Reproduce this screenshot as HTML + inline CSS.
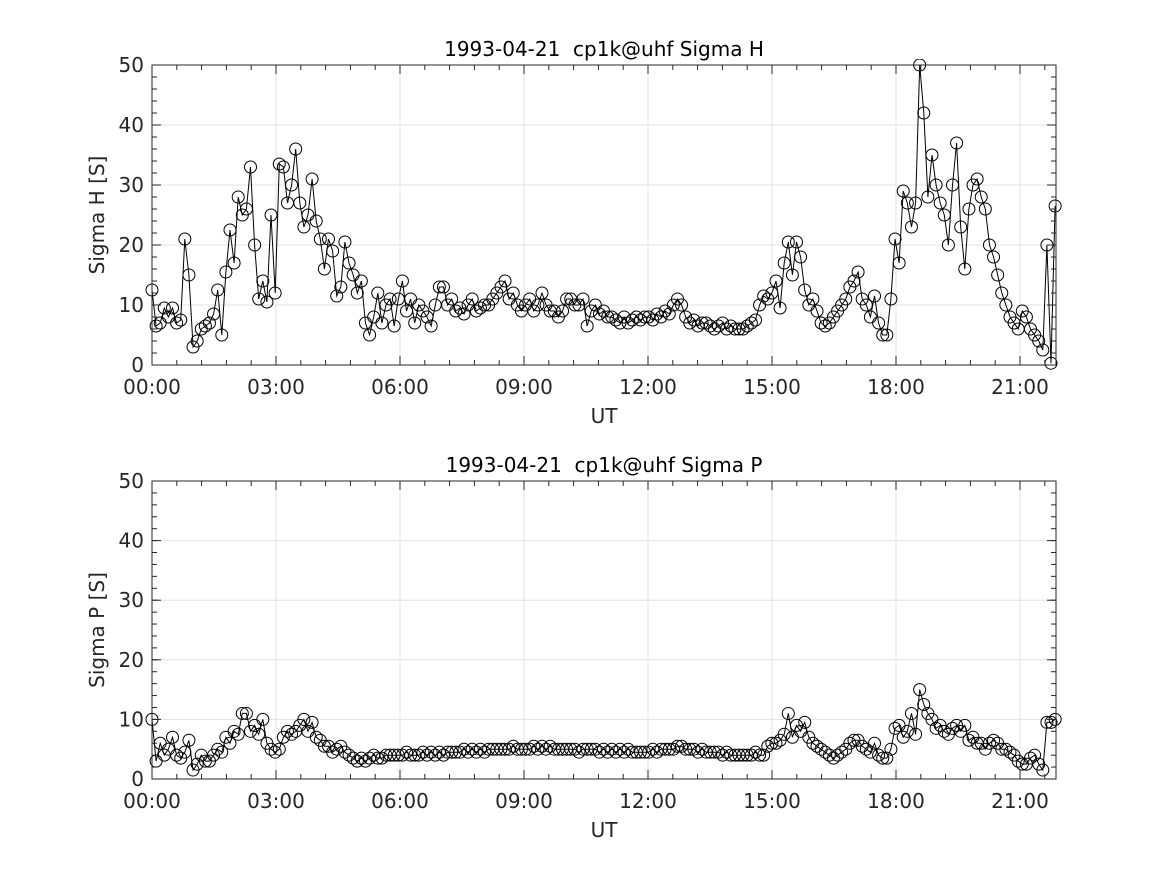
<!DOCTYPE html>
<html><head><meta charset="utf-8"><style>
body{margin:0;background:#fff;}
svg{display:block;font-family:"DejaVu Sans","Liberation Sans",sans-serif;}
</style></head><body>
<svg id="fig" width="1167" height="875" viewBox="0 0 1167 875"></svg>
<script>
const tickHours=[0,3,6,9,12,15,18,21];
const tickLabels=["00:00","03:00","06:00","09:00","12:00","15:00","18:00","21:00"];
const yTicks=[0,10,20,30,40,50];
const lastHour=21.85;
const sigmaH=[12.5,6.5,7,9.5,8,9.5,7,7.5,21,15,
3,4,6,6.5,7,8.5,12.5,5,15.5,22.5,
17,28,25,26,33,20,11,14,10.5,25,
12,33.5,33,27,30,36,27,23,25,31,
24,21,16,21,19,11.5,13,20.5,17,15,
12,14,7,5,8,12,7,10,11,6.5,
11,14,9,11,7,10,9,8,6.5,10,
13,13,10,11,9,9.5,8.5,10,11,9,
9.5,10,10,11,12,13,14,11,12,10,
9,10,11,9,10,12,10,9,9,8,
9,11,11,10,10,11,6.5,9,10,8.5,
9,8,8,7.5,7,8,7,7.5,8,7.5,
8,8,7.5,8.5,8,9,8.5,10,11,10,
8,7,7.5,6.5,7,7,6.5,6,6.5,7,
6,6.5,6,6,6,6.5,7,7.5,10,11.5,
11,12,14,9.5,17,20.5,15,20.5,18,12.5,
10,11,9,7,6.5,7,8,9,10,11,
13,14,15.5,11,10,8,11.5,7,5,5,
11,21,17,29,27,23,27,50,42,28,
35,30,27,25,20,30,37,23,16,26,
30,31,28,26,20,18,15,12,10,8,
7,6,9,8,6,5,4,2.5,20,0.3,26.5];
const sigmaP=[10,3,6,4,5,7,4,3.5,4.5,6.5,
1.5,2.5,4,3,3,4,5,4.5,7,6,
8,7.5,11,11,8,9,7.5,10,6,5,
4.5,5,7,8,7.5,8,9,10,8,9.5,
7,6.5,5.5,5.5,4.5,5,5.5,4.5,4,3.5,
3,3.5,3,3.5,4,3.5,3.5,4,4,4,
4,4,4.5,4,4,4,4.5,4,4.5,4,
4.5,4,4.5,4.5,4.5,4.5,5,4.5,5,4.5,
5,4.5,5,5,5,5,5,5,5.5,5,
5,5,5,5.5,5,5.5,5,5.5,5,5,
5,5,5,5,4.5,5,5,5,5,4.5,
5,4.5,5,4.5,5,4.5,5,4.5,4.5,4.5,
4.5,4.5,5,4.5,5,5,5,5,5.5,5.5,
5,5,5,4.5,5,4.5,4.5,4.5,4.5,4,
4.5,4,4,4,4,4,4,4.5,4,4,
5.5,6,6,6.5,7.5,11,7,9,8,9.5,
7,6,5.5,5,4.5,4,3.5,4,4.5,5,
6,6.5,6.5,5.5,5,4.5,6,4,3.5,3.5,
5,8.5,9,7,8,11,7.5,15,12.5,11,
10,8.5,9,8,7.5,8.5,9,8,9,6.5,
7,6,6,5,6,6.5,6,5,5,4.5,
4,3,2.5,2.5,3.5,4,2.5,1.5,9.5,9.5,10];

const NS="http://www.w3.org/2000/svg";
const svg=document.getElementById('fig');
function mk(tag,attrs,parent){const e=document.createElementNS(NS,tag);for(const k in attrs)e.setAttribute(k,attrs[k]);(parent||svg).appendChild(e);return e;}
const X0=152,X1=1056,HMAX=(X1-X0)/(124/3);
function panel(top,bot,values,title,ylab,key){
  const g=mk('g',{});
  
  
  const xs=h=>X0+(X1-X0)*h/HMAX;
  const ys=v=>bot-(bot-top)*v/50;
  const step=lastHour/(values.length-1);
  mk('rect',{x:X0,y:top,width:X1-X0,height:bot-top,fill:'#fff'},g);
  tickHours.forEach(h=>{const l=mk('line',{x1:xs(h),x2:xs(h),y1:top,y2:bot,stroke:'#e3e3e3','stroke-width':1},g);});
  yTicks.forEach(v=>{const l=mk('line',{x1:X0,x2:X1,y1:ys(v),y2:ys(v),stroke:'#e3e3e3','stroke-width':1},g);});
  let d='';values.forEach((v,i)=>{d+=(i?'L':'M')+xs(i*step).toFixed(1)+' '+ys(v).toFixed(1);});
  const clip=mk('clipPath',{id:'c'+key},g);mk('rect',{x:X0-8,y:top-6,width:X1-X0+16,height:bot-top+12},clip);
  const dg=mk('g',{'clip-path':'url(#c'+key+')'},g);
  const p=mk('path',{d:d,fill:'none',stroke:'#000','stroke-width':1},dg);
  
  
  values.forEach((v,i)=>{const c=mk('circle',{cx:xs(i*step),cy:ys(v),r:6,fill:'none',stroke:'#000','stroke-width':1},dg);
    
    });
  mk('rect',{x:X0,y:top,width:X1-X0,height:bot-top,fill:'none',stroke:'#262626','stroke-width':1},g);
  tickHours.forEach((h,i)=>{const x=xs(h);
    mk('line',{x1:x,x2:x,y1:bot,y2:bot-9,stroke:'#262626'},g);mk('line',{x1:x,x2:x,y1:top,y2:top+9,stroke:'#262626'},g);
    const t=mk('text',{x:x,y:bot+29,'text-anchor':'middle','font-size':20,fill:'#262626'},g);t.textContent=tickLabels[i];
    });
  for(let h=0;h<=HMAX;h+=0.6){const x=xs(h);mk('line',{x1:x,x2:x,y1:bot,y2:bot-5,stroke:'#262626'},g);mk('line',{x1:x,x2:x,y1:top,y2:top+5,stroke:'#262626'},g);}
  yTicks.forEach(v=>{const y=ys(v);
    mk('line',{x1:X0,x2:X0+9,y1:y,y2:y,stroke:'#262626'},g);mk('line',{x1:X1,x2:X1-9,y1:y,y2:y,stroke:'#262626'},g);
    const t=mk('text',{x:X0-8,y:y+7,'text-anchor':'end','font-size':20,fill:'#262626'},g);t.textContent=v;
    });
  for(let v=0;v<=50;v+=2){const y=ys(v);mk('line',{x1:X0,x2:X0+5,y1:y,y2:y,stroke:'#262626'},g);mk('line',{x1:X1,x2:X1-5,y1:y,y2:y,stroke:'#262626'},g);}
  const tt=mk('text',{x:(X0+X1)/2,y:top-9,'text-anchor':'middle','font-size':20,fill:'#000','xml:space':'preserve'},g);tt.textContent=title;
  tt.setAttribute('style','white-space:pre');
  
  const xl=mk('text',{x:(X0+X1)/2,y:bot+58,'text-anchor':'middle','font-size':20,fill:'#262626'},g);xl.textContent='UT';
  
  const yl=mk('text',{x:0,y:0,'text-anchor':'middle','font-size':20,fill:'#262626',transform:'translate(104,'+((top+bot)/2)+') rotate(-90)'},g);yl.textContent=ylab;
  
}
panel(65,365,sigmaH,'1993-04-21  cp1k@uhf Sigma H','Sigma H [S]','sigma-h');
panel(481,779,sigmaP,'1993-04-21  cp1k@uhf Sigma P','Sigma P [S]','sigma-p');
</script>
</body></html>
